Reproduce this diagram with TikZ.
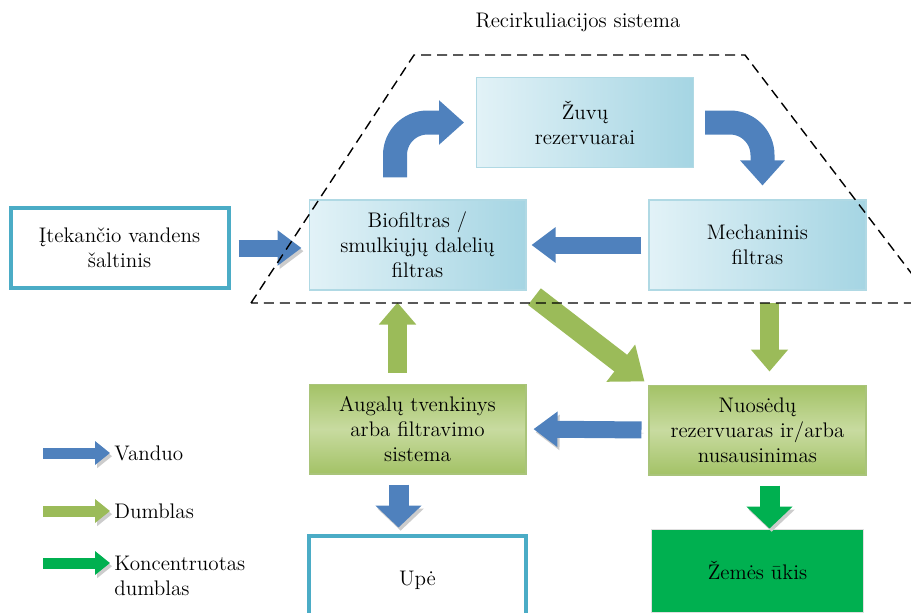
\documentclass[tikz,border=0pt]{standalone}
\usepackage{tikz}
\usetikzlibrary{positioning,arrows.meta,calc}
\definecolor{waterblue}{HTML}{4F81BD}
\definecolor{sludgegreen}{HTML}{9BBB59}
\definecolor{concgreen}{HTML}{00B050}
\definecolor{tealline}{HTML}{4BACC6}
\definecolor{boxlight}{HTML}{E2F2F7}
\definecolor{boxdark}{HTML}{A5D5E3}
\definecolor{boxedge}{HTML}{B0D9E4}
\definecolor{olivelight}{HTML}{C8DBA0}
\definecolor{olivedark}{HTML}{A3C266}
\definecolor{oliveedge}{HTML}{A9C47A}
\tikzset{
  stage/.style={rectangle,align=center,minimum width=4.34cm,minimum height=1.8cm,
    inner sep=2pt,font=\fontsize{12}{14.2}\selectfont},
  tank/.style={stage,draw=boxedge,line width=0.6pt,left color=boxlight,right color=boxdark},
  pond/.style={stage,draw=oliveedge,line width=0.6pt,top color=olivedark,
    bottom color=olivedark,middle color=olivelight},
  outside/.style={stage,draw=tealline,line width=0.08cm,fill=white},
  field/.style={stage,fill=concgreen,draw=gray!25,line width=1pt},
  blockarrow/.style args={#1,#2,#3}{line width=#1,-{Triangle[width=#2,length=#3]}},
  water/.style={draw=waterblue,blockarrow={0.34cm,0.68cm,0.48cm}},
  sludge/.style={draw=sludgegreen,blockarrow={0.38cm,0.72cm,0.44cm}},
  downflow/.style={blockarrow={0.4cm,0.9cm,0.44cm}},
  bent/.style={draw=waterblue,rounded corners=0.65cm,blockarrow={0.48cm,0.86cm,0.5cm}},
  legarrow/.style={blockarrow={0.22cm,0.46cm,0.3cm}},
  shadowed/.style={preaction={draw=gray!40,transform canvas={shift={(1.2pt,-1.8pt)}}}},
  legtext/.style={font=\fontsize{12}{14.2}\selectfont,inner sep=0pt,align=left},
  sysline/.style={dash pattern=on 0.2cm off 0.12cm,line width=0.8pt}
}

\begin{document}
\begin{tikzpicture}[x=0.02cm,y=-0.02cm]
  \useasboundingbox (0,0) rectangle (911,612);
  \clip (0,0) rectangle (911,612);

  % recirculation loop
  \node [tank] (bio) at (417.5,245) {Biofiltras /\\smulkiųjų dalelių\\filtras};
  \node [tank,right=2.44cm of bio] (mech) {Mechaninis\\filtras};
  \node [tank] (zuv) at (585,122.5) {Žuvų\\rezervuarai};
  \node [outside,minimum width=4.36cm,minimum height=1.6cm,left=1.56cm of bio,yshift=-0.06cm] (src)
        {Įtekančio vandens\\šaltinis};

  % treatment and outlets
  \node [pond,below=1.86cm of bio] (aug) {Augalų tvenkinys\\arba filtravimo\\sistema};
  \node [pond,below=1.88cm of mech] (nuo) {Nuosėdų\\rezervuaras ir/arba\\nusausinimas};
  \node [outside,below=1.18cm of aug] (upe) {Upė};
  \node [field,minimum width=4.24cm,minimum height=1.66cm,below=1.06cm of nuo] (zem) {Žemės ūkis};

  \draw[water,shadowed,shorten <=0.16cm,shorten >=0.14cm] (src.east) -- (src.east -| bio.west);
  \draw[bent] ([xshift=-0.45cm,yshift=0.44cm]bio.north) |- ([xshift=-0.24cm]zuv.west);
  \draw[bent] ([xshift=0.22cm]zuv.east) -| ([xshift=0.1cm,yshift=0.28cm]mech.north);
  \draw[water,shorten <=0.14cm,shorten >=0.1cm] (mech.west) -- (bio.east);
  \draw[draw=sludgegreen,blockarrow={0.42cm,0.9cm,0.6cm},shorten <=0.2cm,shorten >=0.1cm]
        (bio.south east) -- (nuo.north west);
  \draw[sludge,shorten <=0.24cm,shorten >=0.26cm] ([xshift=0.24cm]mech.south) -- ([xshift=0.24cm]nuo.north);
  \draw[sludge,shorten <=0.22cm,shorten >=0.24cm] ([xshift=-0.4cm]aug.north) -- ([xshift=-0.4cm]bio.south);
  \draw[water,shadowed,shorten <=0.14cm,shorten >=0.14cm] (nuo.west) -- (aug.east);
  \draw[downflow,draw=waterblue,shadowed,shorten <=0.2cm,shorten >=0.12cm]
        ([xshift=-0.38cm]aug.south) -- ([xshift=-0.38cm]upe.north);
  \draw[downflow,draw=concgreen,shadowed,shorten <=0.2cm]
        ([xshift=0.24cm]nuo.south) -- ([xshift=0.24cm]zem.north);

  % system border
  \coordinate (sysbl) at (251,303);
  \coordinate (systl) at (414,55);
  \coordinate (systr) at (745,55);
  \coordinate (sysbr) at (934,303);
  \draw[sysline] (sysbl) -- (systl) -- (systr) -- (sysbr) -- cycle;
  \node[legtext] (systitle) at (578,22) {Recirkuliacijos sistema};

  % legend
  \node[legtext,anchor=west] (lwater) at (114,453) {Vanduo};
  \node[legtext,anchor=west] (lsludge) at (114,511) {Dumblas};
  \node[legtext,anchor=north west] (lconc) at (114,556) {Koncentruotas\\dumblas};
  \coordinate (lwater0) at (43,453);
  \coordinate (lsludge0) at (43,511);
  \coordinate (lconc0) at (43,563);
  \draw[legarrow,draw=waterblue,shadowed,shorten >=0.08cm] (lwater0) -- (lwater.west);
  \draw[legarrow,draw=sludgegreen,shadowed,shorten >=0.08cm] (lsludge0) -- (lsludge.west);
  \draw[legarrow,draw=concgreen,shadowed,shorten >=0.08cm] (lconc0) -- (lconc0 -| lconc.west);
\end{tikzpicture}
\end{document}
